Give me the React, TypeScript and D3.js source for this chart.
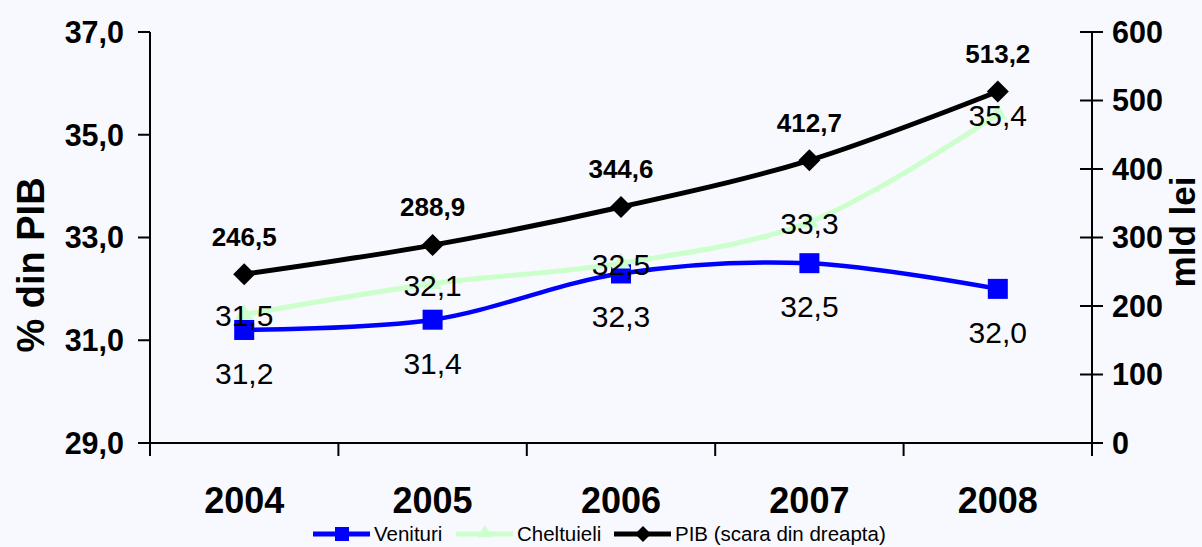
import * as d3 from 'd3'

const W = 1202
const H = 547
const MARGIN = { top: 32, right: 110, bottom: 104, left: 150 }

const YEARS = ['2004', '2005', '2006', '2007', '2008']
const VENITURI = [31.2, 31.4, 32.3, 32.5, 32.0]
const CHELTUIELI = [31.5, 32.1, 32.5, 33.3, 35.4]
const PIB = [246.5, 288.9, 344.6, 412.7, 513.2]

const LEFT_TICKS = [29, 31, 33, 35, 37]
const RIGHT_TICKS = [0, 100, 200, 300, 400, 500, 600]

const BLUE = '#0000ff'
const GREEN = '#ccffcc'
const BLACK = '#000000'
const FONT = "Arial, 'Liberation Sans', sans-serif"

const fmt = (v: number) => v.toFixed(1).replace('.', ',')

export default function App() {
  const x0 = MARGIN.left
  const x1 = W - MARGIN.right
  const yTop = MARGIN.top
  const yBot = H - MARGIN.bottom

  const x = d3.scaleBand().domain(YEARS).range([x0, x1])
  const cx = (y: string) => (x(y) ?? 0) + x.bandwidth() / 2
  const yL = d3.scaleLinear().domain([29, 37]).range([yBot, yTop])
  const yR = d3.scaleLinear().domain([0, 600]).range([yBot, yTop])

  const smooth = d3.line<[number, number]>().curve(d3.curveCatmullRom.alpha(0.5))

  const venPts = YEARS.map((y, i) => [cx(y), yL(VENITURI[i])] as [number, number])
  const chePts = YEARS.map((y, i) => [cx(y), yL(CHELTUIELI[i])] as [number, number])
  const pibPts = YEARS.map((y, i) => [cx(y), yR(PIB[i])] as [number, number])

  const tri = d3.symbol().type(d3.symbolTriangle).size(150)()
  const diamond = (s: number) => `M0,${-s}L${s},0L0,${s}L${-s},0Z`

  // legend layout
  const legend = [
    { name: 'Venituri', color: BLUE, marker: 'square', x: 313 },
    { name: 'Cheltuieli', color: GREEN, marker: 'triangle', x: 456 },
    { name: 'PIB (scara din dreapta)', color: BLACK, marker: 'diamond', x: 614 },
  ]
  const legY = 534

  return (
    <div style={{ position: 'fixed', left: 0, top: 0, width: W, height: H, background: '#f8f9fe' }}>
      <svg width={W} height={H} style={{ display: 'block', fontFamily: FONT }}>
        {/* axes */}
        <line x1={x0} x2={x0} y1={yTop} y2={yBot} stroke="#000" strokeWidth={2} />
        <line x1={x1} x2={x1} y1={yTop} y2={yBot + 12} stroke="#000" strokeWidth={2} />
        <line x1={x0} x2={x1} y1={yBot} y2={yBot} stroke="#000" strokeWidth={2} />

        {LEFT_TICKS.map(t => (
          <g key={`l${t}`}>
            <line x1={x0 - 12} x2={x0} y1={yL(t)} y2={yL(t)} stroke="#000" strokeWidth={2} />
            <text x={x0 - 26} y={yL(t)} dy="0.36em" textAnchor="end" fontSize={30.5} fontWeight="bold">
              {fmt(t)}
            </text>
          </g>
        ))}

        {RIGHT_TICKS.map(t => (
          <g key={`r${t}`}>
            <line x1={x1 - 12} x2={x1 + 11} y1={yR(t)} y2={yR(t)} stroke="#000" strokeWidth={2} />
            <text x={x1 + 20} y={yR(t)} dy="0.36em" textAnchor="start" fontSize={30.5} fontWeight="bold">
              {t}
            </text>
          </g>
        ))}

        {[...YEARS.map(y => x(y) ?? 0), x1].map((v, i) => (
          <line key={`xt${i}`} x1={v} x2={v} y1={yBot} y2={yBot + 13} stroke="#000" strokeWidth={2} />
        ))}
        {YEARS.map(y => (
          <text key={`xl${y}`} x={cx(y)} y={yBot + 70} textAnchor="middle" fontSize={36} fontWeight="bold">
            {y}
          </text>
        ))}

        {/* axis titles */}
        <text transform={`translate(44, 265) rotate(-90)`} textAnchor="middle" fontSize={38} fontWeight="bold">
          % din PIB
        </text>
        <text transform={`translate(1195, 232) rotate(-90)`} textAnchor="middle" fontSize={35} fontWeight="bold">
          mld lei
        </text>

        {/* series */}
        <path d={smooth(venPts) ?? ''} fill="none" stroke={BLUE} strokeWidth={4.5} />
        {venPts.map((p, i) => (
          <rect key={`vm${i}`} x={p[0] - 10} y={p[1] - 10} width={20} height={20} fill={BLUE} />
        ))}

        <path d={smooth(chePts) ?? ''} fill="none" stroke={GREEN} strokeWidth={5} />
        {chePts.map((p, i) => (
          <path key={`cm${i}`} d={tri ?? ''} transform={`translate(${p[0]},${p[1]})`} fill={GREEN} />
        ))}

        <path d={smooth(pibPts) ?? ''} fill="none" stroke={BLACK} strokeWidth={5} />
        {pibPts.map((p, i) => (
          <path key={`pm${i}`} d={diamond(11)} transform={`translate(${p[0]},${p[1]})`} fill={BLACK} />
        ))}

        {/* data labels */}
        {venPts.map((p, i) => (
          <text key={`vl${i}`} x={p[0]} y={p[1] + 43} dy="0.36em" textAnchor="middle" fontSize={30}>
            {fmt(VENITURI[i])}
          </text>
        ))}
        {chePts.map((p, i) => (
          <text key={`cl${i}`} x={p[0]} y={p[1] + 1} dy="0.36em" textAnchor="middle" fontSize={30}>
            {fmt(CHELTUIELI[i])}
          </text>
        ))}
        {pibPts.map((p, i) => (
          <text key={`pl${i}`} x={p[0]} y={p[1] - 38} dy="0.36em" textAnchor="middle" fontSize={26} fontWeight="bold">
            {fmt(PIB[i])}
          </text>
        ))}

        {/* legend */}
        {legend.map(l => (
          <g key={l.name}>
            <line x1={l.x} x2={l.x + 57} y1={legY} y2={legY} stroke={l.color} strokeWidth={5} />
            {l.marker === 'square' && (
              <rect x={l.x + 22} y={legY - 7} width={14} height={14} fill={l.color} />
            )}
            {l.marker === 'triangle' && (
              <path d={d3.symbol().type(d3.symbolTriangle).size(90)() ?? ''} transform={`translate(${l.x + 29},${legY - 1})`} fill={l.color} />
            )}
            {l.marker === 'diamond' && (
              <path d={diamond(8)} transform={`translate(${l.x + 29},${legY})`} fill={l.color} />
            )}
            <text x={l.x + 61} y={legY} dy="0.36em" fontSize={20.5}>
              {l.name}
            </text>
          </g>
        ))}
      </svg>
    </div>
  )
}
